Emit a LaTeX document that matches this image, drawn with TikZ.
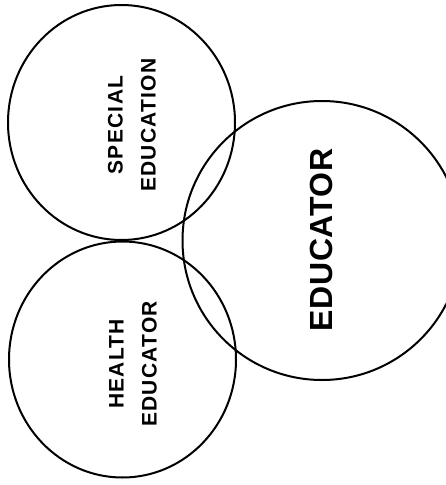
\documentclass[tikz,border=0pt]{standalone}
\usepackage{fontspec}
\setmainfont{Liberation Sans}
\newfontfamily\lblfont[LetterSpace=6]{Liberation Sans Bold}
\newfontfamily\bigfont[LetterSpace=2]{Liberation Sans Bold}
\usetikzlibrary{shapes.geometric}
\begin{document}
\begin{tikzpicture}[x=1pt,y=-1pt,
  ring/.style={draw, ellipse, line width=2pt, inner sep=0pt, outer sep=0pt},
  small/.style={rotate=90, align=center, inner sep=0pt,
    font=\lblfont\fontsize{21}{33}\selectfont},
  large/.style={rotate=90, inner sep=0pt, font=\bigfont\fontsize{32}{36}\selectfont}]
\useasboundingbox (0,0) rectangle (446,485);
\clip (0,0) rectangle (446,485);
\node[ring, minimum width=227pt, minimum height=235pt] (spec) at (121.5,122.5) {};
\node[ring, minimum width=227pt, minimum height=236pt] (health) at (122.5,359.5) {};
\node[ring, minimum width=279pt, minimum height=279pt] (edu) at (322,240.5) {};
\node[small] (spectext) at (132,125) {SPECIAL\hspace{16pt}\\EDUCATION};
\node[small] (healthtext) at (133,364) {HEALTH\\EDUCATOR};
\node[large] (edutext) at (321.5,240) {EDUCATOR};
\end{tikzpicture}
\end{document}
